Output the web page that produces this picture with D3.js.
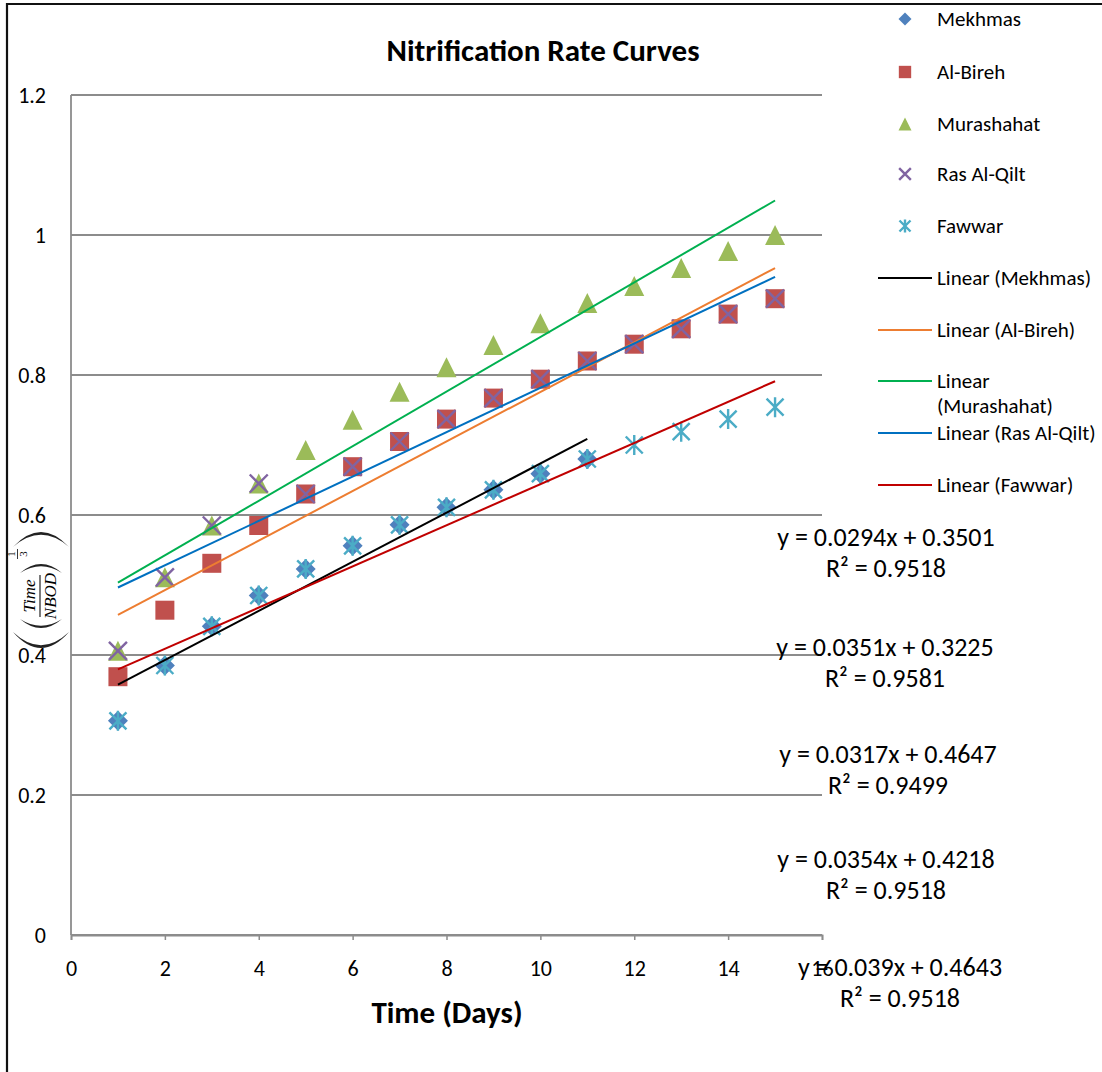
<!DOCTYPE html>
<html>
<head>
<meta charset="utf-8">
<script src="https://cdn.jsdelivr.net/npm/d3@7"></script>
<style>
  html, body { margin: 0; padding: 0; background: #fff; }
  svg { display: block; }
  text { font-family: Carlito, Calibri, Lato, sans-serif; fill: #000; }
</style>
</head>
<body>
<svg id="chart" width="1102" height="1072"></svg>
<script>
// ---- data ----
const days = [1, 2, 3, 4, 5, 6, 7, 8, 9, 10, 11, 12, 13, 14, 15];
const mekhmas    = [0.306, 0.385, 0.441, 0.485, 0.523, 0.556, 0.586, 0.611, 0.636, 0.659, 0.680];
const alBireh    = [0.369, 0.464, 0.531, 0.585, 0.630, 0.669, 0.705, 0.737, 0.767, 0.794, 0.820, 0.844, 0.866, 0.887, 0.909];
const murashahat = [0.406, 0.511, 0.585, 0.645, 0.693, 0.736, 0.776, 0.811, 0.843, 0.874, 0.903, 0.927, 0.953, 0.977, 1.000];
const rasAlQilt  = [0.406, 0.511, 0.585, 0.645, 0.630, 0.669, 0.705, 0.737, 0.767, 0.794, 0.820, 0.844, 0.866, 0.887, 0.909];
const fawwar     = [0.306, 0.385, 0.441, 0.485, 0.523, 0.556, 0.586, 0.611, 0.636, 0.659, 0.680, 0.700, 0.719, 0.737, 0.754];

const seriesNames = ["Mekhmas", "Al-Bireh", "Murashahat", "Ras Al-Qilt", "Fawwar"];
// linear trend coefficients [slope, intercept, R²] per series
const trendSlope     = [0.0351, 0.0354, 0.039, 0.0317, 0.0294];
const trendIntercept = [0.3225, 0.4218, 0.4643, 0.4647, 0.3501];
const trendR2        = [0.9581, 0.9518, 0.9518, 0.9499, 0.9518];

const xTicks = [0, 2, 4, 6, 8, 10, 12, 14, 16];
const xTickLabels = ["0", "2", "4", "6", "8", "10", "12", "14", "16"];
const yTicks = [0, 0.2, 0.4, 0.6, 0.8, 1.0, 1.2];
const yTickLabels = ["0", "0.2", "0.4", "0.6", "0.8", "1", "1.2"];

// ---- styling / layout ----
const markerColors = ["#4F81BD", "#C0504D", "#9BBB59", "#8064A2", "#4BACC6"];
const markerKinds  = ["diamond", "square", "triangle", "x", "star"];
const trendColors  = ["#000000", "#ED7D31", "#00B050", "#0070C0", "#C00000"];
// order in which the equation labels are stacked (top to bottom) and their centres
const eqOrder = [4, 0, 3, 1, 2];
const eqPos = [[886, 537], [885, 647], [888, 754], [886, 859], [900, 967]];

const svg = d3.select("#chart");
const x = d3.scaleLinear().domain([0, 16]).range([71, 822]);
const y = d3.scaleLinear().domain([0, 1.2]).range([935, 95]);

const seriesValues = [mekhmas, alBireh, murashahat, rasAlQilt, fawwar];
const series = seriesNames.map((name, i) => ({
  name, i,
  points: seriesValues[i].map((v, k) => ({ day: days[k], v }))
}));

// outer frame
svg.append("path")
  .attr("d", "M7,1072 V4 H1102")
  .attr("fill", "none").attr("stroke", "#111").attr("stroke-width", 2.2);

// gridlines
svg.append("g").selectAll("line").data(yTicks).join("line")
  .attr("x1", x(0)).attr("x2", x(16))
  .attr("y1", d => y(d)).attr("y2", d => y(d))
  .attr("stroke", "#8c8c8c").attr("stroke-width", 1.8);

// y axis line
svg.append("line")
  .attr("x1", x(0)).attr("x2", x(0)).attr("y1", y(1.2)).attr("y2", y(0))
  .attr("stroke", "#8c8c8c").attr("stroke-width", 1.8);

// x axis
const xAxis = d3.axisBottom(x).tickValues(xTicks)
  .tickFormat((d, i) => xTickLabels[i]).tickSize(5).tickPadding(20);
const gx = svg.append("g").attr("transform", `translate(0,${y(0)})`).call(xAxis);
gx.select(".domain").attr("stroke", "#8c8c8c").attr("stroke-width", 1.8);
gx.selectAll(".tick line").attr("stroke", "#8c8c8c").attr("stroke-width", 1.5);
gx.selectAll(".tick text").attr("font-size", 22).attr("fill", "#000")
  .style("font-family", "Carlito, Calibri, Lato, sans-serif");

// y axis labels
const yAxis = d3.axisLeft(y).tickValues(yTicks)
  .tickFormat((d, i) => yTickLabels[i]).tickSize(0).tickPadding(25);
const gy = svg.append("g").attr("transform", `translate(${x(0)},0)`).call(yAxis);
gy.select(".domain").remove();
gy.selectAll(".tick text").attr("font-size", 22).attr("fill", "#000")
  .style("font-family", "Carlito, Calibri, Lato, sans-serif");

// marker shapes
function drawMarker(g, kind, color, s) {
  const h = s / 2;
  if (kind === "diamond") {
    g.append("path").attr("d", `M0,${-h} L${h},0 L0,${h} L${-h},0 Z`).attr("fill", color);
  } else if (kind === "square") {
    g.append("rect").attr("x", -h * 0.95).attr("y", -h * 0.95)
      .attr("width", s * 0.95).attr("height", s * 0.95).attr("fill", color);
  } else if (kind === "triangle") {
    g.append("path").attr("d", `M0,${-h} L${h},${h} L${-h},${h} Z`).attr("fill", color);
  } else if (kind === "x") {
    const a = h * 0.9;
    g.append("path").attr("d", `M${-a},${-a} L${a},${a} M${-a},${a} L${a},${-a}`)
      .attr("stroke", color).attr("stroke-width", 2.4).attr("fill", "none");
  } else if (kind === "star") {
    const a = h * 0.85;
    g.append("path").attr("d", `M${-a},${-a} L${a},${a} M${-a},${a} L${a},${-a} M0,${-h} L0,${h}`)
      .attr("stroke", color).attr("stroke-width", 2.4).attr("fill", "none");
  }
}

// data markers
const markerLayer = svg.append("g");
series.forEach(s => {
  s.points.forEach(p => {
    const g = markerLayer.append("g").attr("transform", `translate(${x(p.day)},${y(p.v)})`);
    drawMarker(g, markerKinds[s.i], markerColors[s.i], 20);
  });
});

// linear trend lines over each series' day range
const trendLayer = svg.append("g");
series.forEach(s => {
  const d0 = s.points[0].day, d1 = s.points[s.points.length - 1].day;
  const f = t => trendSlope[s.i] * t + trendIntercept[s.i];
  trendLayer.append("line")
    .attr("x1", x(d0)).attr("y1", y(f(d0)))
    .attr("x2", x(d1)).attr("y2", y(f(d1)))
    .attr("stroke", trendColors[s.i]).attr("stroke-width", 2);
});

// trend equations
const eqLayer = svg.append("g").attr("font-size", 26);
eqOrder.forEach((si, k) => {
  const [cx, cy] = eqPos[k];
  eqLayer.append("text").attr("x", cx).attr("y", cy).attr("dy", "0.35em")
    .attr("text-anchor", "middle")
    .text(`y = ${trendSlope[si]}x + ${trendIntercept[si]}`);
  eqLayer.append("text").attr("x", cx).attr("y", cy + 31).attr("dy", "0.35em")
    .attr("text-anchor", "middle")
    .text(`R² = ${trendR2[si].toFixed(4)}`);
});

// title
svg.append("text").attr("x", 543).attr("y", 50).attr("dy", "0.35em")
  .attr("text-anchor", "middle").attr("font-size", 31).attr("font-weight", "bold")
  .text("Nitrification Rate Curves");

// x axis title
svg.append("text").attr("x", 447).attr("y", 1012).attr("dy", "0.35em")
  .attr("text-anchor", "middle").attr("font-size", 31).attr("font-weight", "bold")
  .text("Time (Days)");

// y axis title: ((Time / NBOD)^(1/3)), typeset sideways
const yt = svg.append("g").attr("transform", "translate(41,585) rotate(-90)");
function paren(tx, bx, h, t) {
  const s = Math.sign(tx - bx);
  const c1 = 2 * bx - tx;
  const c2 = 2 * (bx + s * t) - tx;
  return `M${tx},${-h} Q${c1},0 ${tx},${h} Q${c2},0 ${tx},${-h} Z`;
}
yt.append("path").attr("d", paren(-47, -63, 28, 2.8)).attr("fill", "#222");
yt.append("path").attr("d", paren(-34, -43, 21, 2.2)).attr("fill", "#222");
yt.append("path").attr("d", paren(12, 21, 21, 2.2)).attr("fill", "#222");
yt.append("path").attr("d", paren(38, 53, 28, 2.8)).attr("fill", "#222");
const mathFont = "'Liberation Serif', 'DejaVu Serif', serif";
yt.append("text").attr("x", -11).attr("y", -6).attr("text-anchor", "middle")
  .attr("font-size", 17).attr("font-style", "italic").style("font-family", mathFont)
  .attr("fill", "#222").text("Time");
yt.append("text").attr("x", -11).attr("y", 15).attr("text-anchor", "middle")
  .attr("font-size", 17).attr("font-style", "italic").style("font-family", mathFont)
  .attr("fill", "#222").text("NBOD");
yt.append("line").attr("x1", -32).attr("x2", 10).attr("y1", -1).attr("y2", -1)
  .attr("stroke", "#222").attr("stroke-width", 1.2);
yt.append("text").attr("x", 31).attr("y", -26).attr("text-anchor", "middle")
  .attr("font-size", 11).style("font-family", mathFont).attr("fill", "#222").text("1");
yt.append("line").attr("x1", 26).attr("x2", 36).attr("y1", -23.5).attr("y2", -23.5)
  .attr("stroke", "#222").attr("stroke-width", 0.9);
yt.append("text").attr("x", 31).attr("y", -14).attr("text-anchor", "middle")
  .attr("font-size", 11).style("font-family", mathFont).attr("fill", "#222").text("3");

// legend
const legendMarkerY = [19, 72, 124, 174, 226];
const legendLineY = [278, 330, 381, 433, 485];
const legend = svg.append("g").attr("font-size", 21);
series.forEach(s => {
  const g = legend.append("g").attr("transform", `translate(905,${legendMarkerY[s.i]})`);
  drawMarker(g, markerKinds[s.i], markerColors[s.i], 13);
  legend.append("text").attr("x", 937).attr("y", legendMarkerY[s.i]).attr("dy", "0.35em")
    .text(s.name);
});
series.forEach(s => {
  const ly = legendLineY[s.i];
  legend.append("line").attr("x1", 878).attr("x2", 932).attr("y1", ly).attr("y2", ly)
    .attr("stroke", trendColors[s.i]).attr("stroke-width", 2);
  const label = `Linear (${s.name})`;
  if (s.name === "Murashahat") {
    legend.append("text").attr("x", 937).attr("y", ly).attr("dy", "0.35em").text("Linear");
    legend.append("text").attr("x", 937).attr("y", ly + 25).attr("dy", "0.35em").text(`(${s.name})`);
  } else {
    legend.append("text").attr("x", 937).attr("y", ly).attr("dy", "0.35em").text(label);
  }
});
</script>
</body>
</html>
